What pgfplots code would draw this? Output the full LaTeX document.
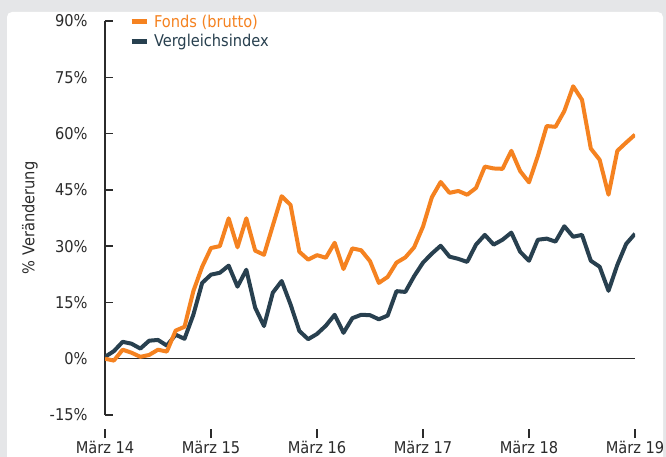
\documentclass[border=0pt]{standalone}
\usepackage{pgfplots}
\pgfplotsset{compat=1.18}
\usepackage{fontspec}
\setmainfont{DejaVu Sans Condensed}
\definecolor{fonds}{HTML}{F58220}
\definecolor{vgl}{HTML}{28404F}
\definecolor{bg}{HTML}{E5E6E8}
\definecolor{txt}{HTML}{2B2B2B}
\pgfplotstableread{
m fonds vgl
0 0 0.5
1 -0.5 2
2 2.4 4.5
3 1.6 4
4 0.5 2.7
5 1 4.8
6 2.4 5
7 1.9 3.5
8 7.5 6.4
9 8.5 5.3
10 18 11.7
11 24.5 20.2
12 29.5 22.4
13 30 22.9
14 37.4 24.8
15 29.7 19.2
16 37.4 23.7
17 28.8 13.6
18 27.7 8.7
19 35.5 17.6
20 43.3 20.7
21 41 14.5
22 28.5 7.4
23 26.4 5.2
24 27.6 6.6
25 26.9 8.8
26 30.9 11.7
27 23.9 6.9
28 29.4 10.8
29 28.9 11.7
30 26 11.6
31 20.2 10.5
32 21.8 11.5
33 25.6 18
34 27 17.8
35 29.7 22
36 35.2 25.6
37 43 28
38 47.1 30.1
39 44.2 27.2
40 44.7 26.6
41 43.7 25.8
42 45.5 30.4
43 51.2 33
44 50.7 30.4
45 50.6 31.7
46 55.4 33.6
47 50 28.5
48 47 26.1
49 54 31.7
50 62 32
51 61.8 31.2
52 66 35.3
53 72.6 32.5
54 69 33
55 56 26.1
56 53 24.5
57 43.7 18.1
58 55.4 25
59 57.6 30.6
60 59.7 33.3
}\datatable
\begin{document}
\begin{tikzpicture}
\path[use as bounding box] (0,0) rectangle (666bp,457bp);
\fill[bg] (0,0) rectangle (666bp,457bp);
\begin{scope}
\clip (0,0) rectangle (666bp,457bp);
\fill[white, rounded corners=5bp] (7bp,-20bp) rectangle (663bp,445bp);
\end{scope}
\begin{axis}[
  at={(105bp,19bp)}, anchor=south west,
  scale only axis, width=530bp, height=417bp,
  xmin=0, xmax=60, ymin=-21.13, ymax=90,
  axis lines*=left,
  x axis line style={draw=none},
  y axis line style={draw=txt, line width=1.5bp, shorten <=23bp},
  xtick={0,12,24,36,48,60},
  xticklabels={März 14, März 15, März 16, März 17, März 18, März 19},
  ytick={-15,0,15,30,45,60,75,90},
  yticklabel={\pgfmathprintnumber{\tick}\%},
  /pgf/number format/assume math mode=true,
  tick align=inside,
  major tick length=8.5bp,
  tick style={draw=txt, line width=1.5bp},
  tick label style={font=\fontsize{16.3}{19}\selectfont, text=txt},
  yticklabel style={xshift=-14bp},
  xticklabel style={yshift=0bp},
  ylabel={\% Veränderung},
  ylabel style={at={(axis description cs:-0.1415,0.528)}, anchor=center, font=\fontsize{16.3}{19}\selectfont, text=txt},
  extra y ticks={0},
  extra y tick labels={},
  extra y tick style={grid=major, major grid style={draw=txt, line width=1.4bp}},
  legend style={at={(axis description cs:0.045,1.02)}, anchor=north west, draw=none, fill=none, inner sep=0pt, row sep=2bp, column sep=3bp, font=\fontsize{16.3}{19}\selectfont},
  legend cell align=left,
  legend image code/.code={\draw[line width=5bp] (0bp,0bp) -- (15bp,0bp);},
  reverse legend,
]
\addplot[vgl, line width=4bp, line join=round] table[x=m, y=vgl] {\datatable};
\addlegendentry{\textcolor{vgl}{Vergleichsindex}}
\addplot[fonds, line width=4bp, line join=round] table[x=m, y=fonds] {\datatable};
\addlegendentry{\textcolor{fonds}{Fonds (brutto)}}
\end{axis}
\end{tikzpicture}
\end{document}
